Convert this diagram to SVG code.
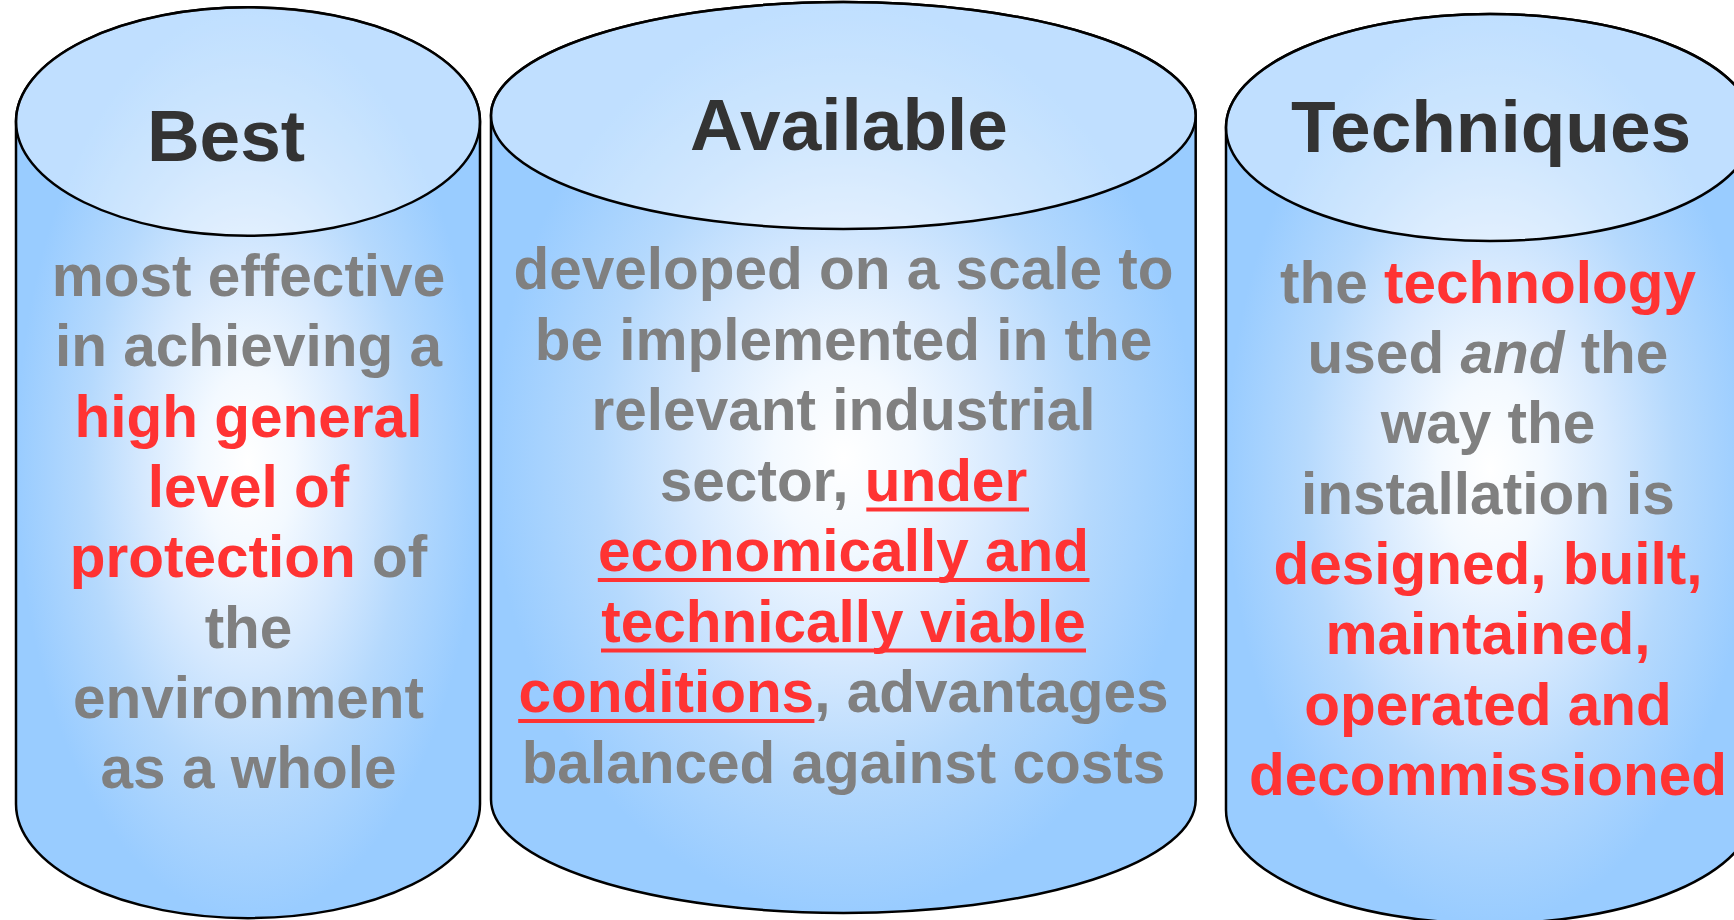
<svg xmlns="http://www.w3.org/2000/svg" width="1734" height="920" viewBox="0 0 1734 920">
  <style>
    .body { fill: url(#bodyGrad); stroke: #000; stroke-width: 2.5; }
    .top { fill: #ffffff; fill-opacity: 0.38; stroke: #000; stroke-width: 2.5; }
    text { font-family: "Liberation Sans", Arial, sans-serif; font-weight: bold; text-anchor: middle; }
    .title { font-size: 73px; fill: #333333; }
    .txt { font-size: 58.5px; fill: #808080; }
    .r { fill: #FF3333; }
    .ul { stroke: #FF3333; stroke-width: 4; }
    .i { font-style: italic; }
  </style>
  <defs>
    <radialGradient id="bodyGrad" cx="0.5" cy="0.5" r="0.5">
      <stop offset="0" stop-color="#ffffff"/>
      <stop offset="0.2" stop-color="#f3f9ff"/>
      <stop offset="0.45" stop-color="#d6e9fe"/>
      <stop offset="0.7" stop-color="#b5d9fd"/>
      <stop offset="1" stop-color="#99ccff"/>
    </radialGradient>
  </defs>
  <rect width="1734" height="920" fill="#ffffff"/>
  <g id="connectors"/>

  <g id="best">
    <path class="body" d="M16,121.5 L16,804 A232,114.2 0 0 0 480,804 L480,121.5 A232,114.2 0 0 0 16,121.5 Z"/>
    <ellipse class="top" cx="248" cy="121.5" rx="232" ry="114.2"/>
    <text class="title" x="226" y="161">Best</text>
    <text class="txt" x="248.5" y="296">most effective</text>
    <text class="txt" x="248.5" y="366.3">in achieving a</text>
    <text class="txt r" x="248.5" y="436.6">high general</text>
    <text class="txt r" x="248.5" y="506.9">level of</text>
    <text class="txt" x="248.5" y="577.2"><tspan class="r">protection</tspan><tspan> of</tspan></text>
    <text class="txt" x="248.5" y="647.5">the</text>
    <text class="txt" x="248.5" y="717.8">environment</text>
    <text class="txt" x="248.5" y="788.1">as a whole</text>
  </g>

  <g id="available">
    <path class="body" d="M491,115.5 L491,799.5 A352.35,113.5 0 0 0 1195.7,799.5 L1195.7,115.5 A352.35,113.5 0 0 0 491,115.5 Z"/>
    <ellipse class="top" cx="843.35" cy="115.5" rx="352.35" ry="113.5"/>
    <text class="title" x="849" y="150">Available</text>
    <text class="txt" x="843.5" y="289">developed on a scale to</text>
    <text class="txt" x="843.5" y="359.5">be implemented in the</text>
    <text class="txt" x="843.5" y="430">relevant industrial</text>
    <text class="txt" x="843.5" y="500.5"><tspan>sector, </tspan><tspan class="r">under</tspan></text>
    <text class="txt r" x="843.5" y="571">economically and</text>
    <text class="txt r" x="843.5" y="641.5">technically viable</text>
    <text class="txt" x="843.5" y="712"><tspan class="r">conditions</tspan><tspan>, advantages</tspan></text>
    <text class="txt" x="843.5" y="782.5">balanced against costs</text>
    <line class="ul" x1="866.3" y1="509.5" x2="1029" y2="509.5"/>
    <line class="ul" x1="597.8" y1="580" x2="1089.5" y2="580"/>
    <line class="ul" x1="601" y1="650.5" x2="1086" y2="650.5"/>
    <line class="ul" x1="518.2" y1="721" x2="814.4" y2="721"/>
  </g>

  <g id="techniques">
    <path class="body" d="M1226,127.5 L1226,810 A264,113.5 0 0 0 1754,810 L1754,127.5 A264,113.5 0 0 0 1226,127.5 Z"/>
    <ellipse class="top" cx="1490" cy="127.5" rx="264" ry="113.5"/>
    <text class="title" x="1491" y="152">Techniques</text>
    <text class="txt" x="1488" y="302.7"><tspan>the </tspan><tspan class="r">technology</tspan></text>
    <text class="txt" x="1488" y="373"><tspan>used </tspan><tspan class="i">and</tspan><tspan> the</tspan></text>
    <text class="txt" x="1488" y="443.3">way the</text>
    <text class="txt" x="1488" y="513.6">installation is</text>
    <text class="txt r" x="1488" y="583.9">designed, built,</text>
    <text class="txt r" x="1488" y="654.2">maintained,</text>
    <text class="txt r" x="1488" y="724.5">operated and</text>
    <text class="txt r" x="1488" y="794.8">decommissioned</text>
  </g>
</svg>
